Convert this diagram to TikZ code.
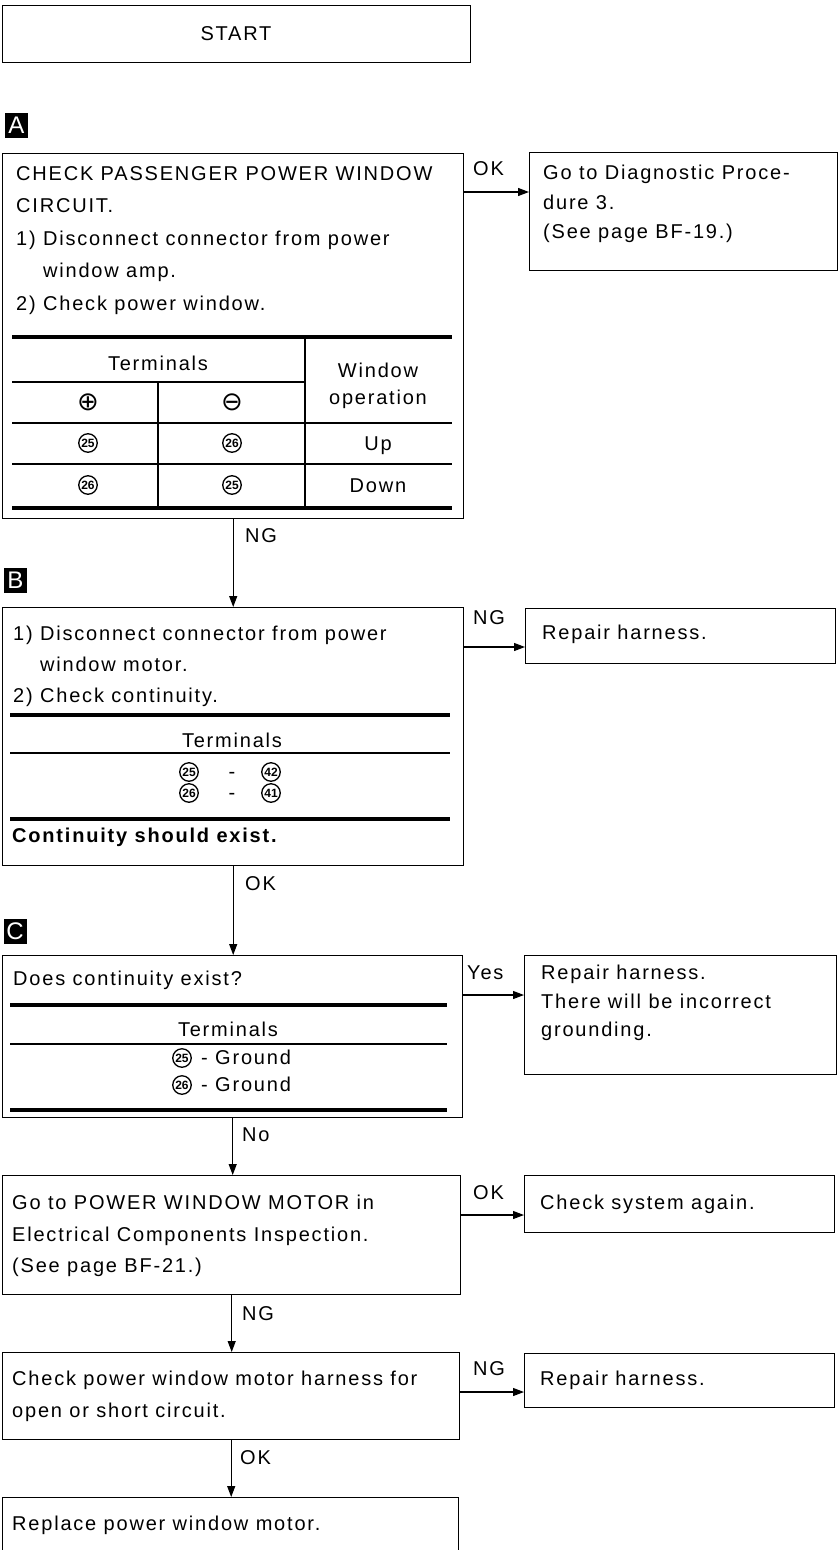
\documentclass[tikz,border=0pt]{standalone}
\usepackage{fontspec}
\setmainfont{Liberation Sans}[LetterSpace=9]
\newfontfamily\cnumfont{Liberation Sans}[LetterSpace=0]
\newfontfamily\markfont{Liberation Sans}[LetterSpace=0]
\newfontfamily\symfont{DejaVu Sans}
\usetikzlibrary{arrows.meta}
\newcommand\txtfont[1]{\fontsize{20}{#1}\selectfont}
\tikzset{
  box/.style={draw, line width=1.4pt, rectangle, inner sep=0pt, anchor=north west},
  txt/.style={anchor=north west, inner sep=0pt, align=left},
  lbl/.style={anchor=north west, inner sep=0pt, font={\txtfont{22}}},
  ctr/.style={anchor=base, inner sep=0pt, font={\txtfont{22}}},
  arr/.style={line width=1.2pt, -{Triangle[length=11pt,width=8pt]}},
  thickrule/.style={line width=4pt},
  thinrule/.style={line width=1.2pt},
  cnum/.style={circle, draw, line width=1.3pt, inner sep=0pt, minimum size=18.5pt, font={\cnumfont\bfseries\fontsize{12}{12}\selectfont}},
  marker/.style={fill=black, text=white, inner sep=0pt, minimum width=23pt, minimum height=25pt, font={\markfont\fontsize{24}{24}\selectfont}},
  pm/.style={inner sep=0pt, font={\symfont\fontsize{26}{26}\selectfont}}
}
\begin{document}
\begin{tikzpicture}[x=1pt,y=-1pt]
\useasboundingbox (0,0) rectangle (839,1550);
\clip (0,0) rectangle (839,1550);

% ---------- START ----------
\node[box, minimum width=468pt, minimum height=57pt] (start) at (2,5) {};
\node[ctr] (starttxt) at (236,40) {START};

% ---------- A ----------
\node[marker] (markA) at (16.5,125) {A};
\node[box, minimum width=461pt, minimum height=365pt] (boxA) at (2,153) {};
\node[txt, font={\txtfont{32.5}}] (textA) at (16,166) {CHECK PASSENGER POWER WINDOW\\CIRCUIT.\\1) Disconnect connector from power\\\phantom{1) }window amp.\\2) Check power window.};
\draw[thickrule] (12,337) -- (452,337);
\draw[thinrule] (12,382) -- (305,382);
\draw[thinrule] (305,337) -- (305,508);
\draw[thinrule] (158,382) -- (158,508);
\draw[thinrule] (12,423) -- (452,423);
\draw[thinrule] (12,464) -- (452,464);
\draw[thickrule] (12,508) -- (452,508);
\node[ctr] (aTerm) at (158,370) {Terminals};
\node[ctr] (aWin) at (378,377) {Window};
\node[ctr] (aOp) at (378,404) {operation};
\node[pm] (aPlus) at (88,402) {⊕};
\node[pm] (aMinus) at (232,402) {⊖};
\node[cnum] (a11) at (88,443) {25};
\node[cnum] (a12) at (232,443) {26};
\node[ctr] (aUp) at (378,450) {Up};
\node[cnum] (a21) at (88,485) {26};
\node[cnum] (a22) at (232,485) {25};
\node[ctr] (aDown) at (378,492) {Down};

% Diag box
\node[box, minimum width=308pt, minimum height=118pt] (diag) at (529,152) {};
\node[txt, font={\txtfont{29.5}}] (diagtxt) at (543,165) {Go to Diagnostic Proce-\\dure 3.\\(See page BF-19.)};
\coordinate (okA) at (463,192);
\draw[arr] (okA) -- (okA -| diag.west);
\node[lbl] (lokA) at (473,161) {OK};

% ---------- B ----------
\draw[arr] (boxA.south) -- (boxA.south |- 0,607);
\node[lbl] (lngA) at (245,528) {NG};
\node[marker] (markB) at (15.5,580) {B};
\node[box, minimum width=461pt, minimum height=258pt] (boxB) at (2,607) {};
\node[txt, font={\txtfont{31}}] (textB) at (13,626) {1) Disconnect connector from power\\\phantom{1) }window motor.\\2) Check continuity.};
\draw[thickrule] (10,715) -- (450,715);
\node[ctr] (bTerm) at (232,747) {Terminals};
\draw[thinrule] (10,753) -- (450,753);
\node[cnum] (b11) at (189,772) {25};
\node[ctr] (bd1) at (232,778.5) {-};
\node[cnum] (b12) at (271,772) {42};
\node[cnum] (b21) at (189,793) {26};
\node[ctr] (bd2) at (232,799.5) {-};
\node[cnum] (b22) at (271,793) {41};
\draw[thickrule] (10,819) -- (450,819);
\node[lbl, font={\txtfont{22}\bfseries}] (bCont) at (12,828) {Continuity should exist.};

\node[box, minimum width=310pt, minimum height=55pt] (rep1) at (525,608) {};
\node[txt, font={\txtfont{22}}] (rep1txt) at (542,625) {Repair harness.};
\coordinate (ngB) at (463,647);
\draw[arr] (ngB) -- (ngB -| rep1.west);
\node[lbl] (lngB) at (473,610) {NG};

% ---------- C ----------
\draw[arr] (boxB.south) -- (boxB.south |- 0,955);
\node[lbl] (lokB) at (245,876) {OK};
\node[marker] (markC) at (15,931) {C};
\node[box, minimum width=460pt, minimum height=162pt] (boxC) at (2,955) {};
\node[txt, font={\txtfont{22}}] (textC) at (13,971) {Does continuity exist?};
\draw[thickrule] (10,1005) -- (447,1005);
\node[ctr] (cTerm) at (228,1036) {Terminals};
\draw[thinrule] (10,1044) -- (447,1044);
\node[cnum] (c1) at (182,1058) {25};
\node[anchor=base west, inner sep=0pt, font={\txtfont{22}}] (c1t) at (201,1064.7) {- Ground};
\node[cnum] (c2) at (182,1085) {26};
\node[anchor=base west, inner sep=0pt, font={\txtfont{22}}] (c2t) at (201,1091.7) {- Ground};
\draw[thickrule] (10,1110) -- (447,1110);

\node[box, minimum width=312pt, minimum height=119pt] (yesbox) at (524,955) {};
\node[txt, font={\txtfont{28.5}}] (yestxt) at (541,965) {Repair harness.\\There will be incorrect\\grounding.};
\coordinate (yesC) at (462,995);
\draw[arr] (yesC) -- (yesC -| yesbox.west);
\node[lbl] (lyes) at (467,966) {Yes};

% ---------- D ----------
\draw[arr] (boxC.south) -- (boxC.south |- 0,1175);
\node[lbl] (lnoC) at (242,1128) {No};
\node[box, minimum width=458pt, minimum height=119pt] (boxD) at (2,1175) {};
\node[txt, font={\txtfont{31.5}}] (textD) at (12,1195) {Go to POWER WINDOW MOTOR in\\Electrical Components Inspection.\\(See page BF-21.)};
\node[box, minimum width=310pt, minimum height=57pt] (chk) at (524,1175) {};
\node[txt, font={\txtfont{22}}] (chktxt) at (540,1195) {Check system again.};
\coordinate (okD) at (460,1215);
\draw[arr] (okD) -- (okD -| chk.west);
\node[lbl] (lokD) at (473,1185) {OK};

% ---------- E ----------
\draw[arr] (boxD.south) -- (boxD.south |- 0,1352);
\node[lbl] (lngD) at (242,1306) {NG};
\node[box, minimum width=457pt, minimum height=87pt] (boxE) at (2,1352) {};
\node[txt, font={\txtfont{32}}] (textE) at (12,1371) {Check power window motor harness for\\open or short circuit.};
\node[box, minimum width=310pt, minimum height=54pt] (rep2) at (524,1353) {};
\node[txt, font={\txtfont{22}}] (rep2txt) at (540,1371) {Repair harness.};
\coordinate (ngE) at (459,1392);
\draw[arr] (ngE) -- (ngE -| rep2.west);
\node[lbl] (lngE) at (473,1361) {NG};

% ---------- F ----------
\draw[arr] (boxE.south) -- (boxE.south |- 0,1497);
\node[lbl] (lokE) at (240,1450) {OK};
\node[box, minimum width=456pt, minimum height=90pt] (boxF) at (2,1497) {};
\node[txt, font={\txtfont{22}}] (textF) at (12,1516) {Replace power window motor.};
\end{tikzpicture}
\end{document}
